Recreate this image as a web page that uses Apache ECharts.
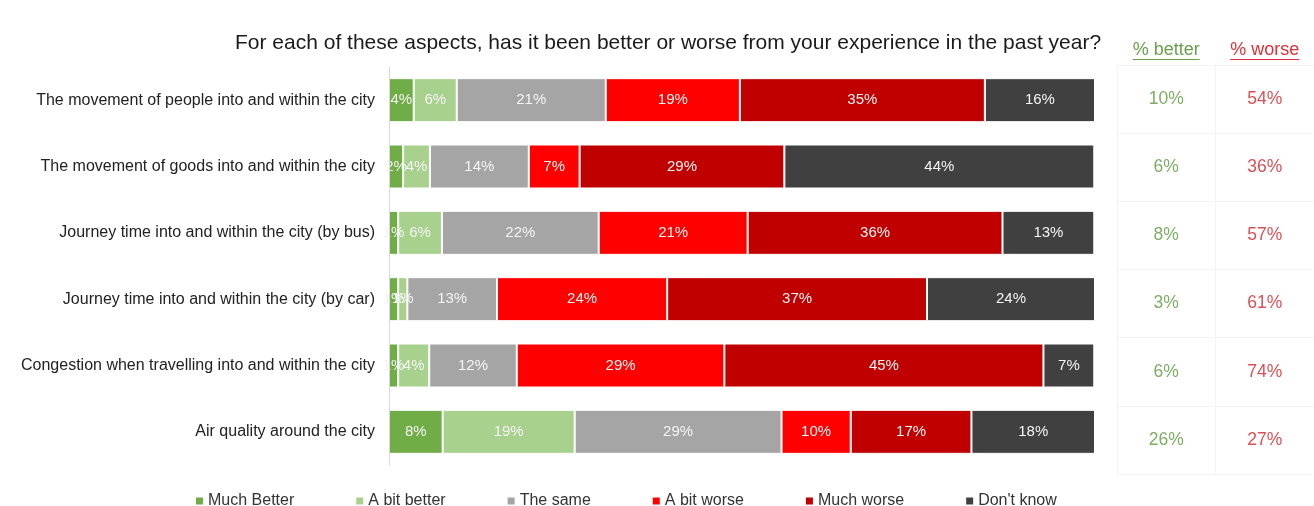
<!DOCTYPE html>
<html>
<head>
<meta charset="utf-8">
<script src="https://cdn.jsdelivr.net/npm/echarts@6/dist/echarts.min.js"></script>
<style>
  html, body { margin: 0; padding: 0; background: #fff; }
  #chart { width: 1314px; height: 506px; }
</style>
</head>
<body>
<div id="chart"></div>
<script>
// Survey aspects (top to bottom)
const categories = [
  'The movement of people into and within the city',
  'The movement of goods into and within the city',
  'Journey time into and within the city (by bus)',
  'Journey time into and within the city (by car)',
  'Congestion when travelling into and within the city',
  'Air quality around the city'
];

// Share of responses per answer, in percent
const seriesNames = ['Much Better', 'A bit better', 'The same', 'A bit worse', 'Much worse', "Don't know"];
const muchBetter = [3.5, 2.0, 1.3, 1.3, 1.3, 7.6];
const aBitBetter = [6.1, 3.8, 6.2, 1.3, 4.4, 18.7];
const theSame    = [21.1, 14.0, 22.2, 12.7, 12.4, 29.3];
const aBitWorse  = [19.0, 7.2, 21.1, 24.1, 29.4, 9.8];
const muchWorse  = [34.7, 29.0, 36.1, 36.8, 45.2, 17.1];
const dontKnow   = [15.6, 43.9, 13.0, 23.8, 7.2, 17.5];

// Summary table columns
const tableHeaders = ['% better', '% worse'];
const pctBetter = [10, 6, 8, 3, 6, 26];
const pctWorse  = [54, 36, 57, 61, 74, 27];

const colors = ['#70AD47', '#A9D18E', '#A5A5A5', '#FF0000', '#C00000', '#404040'];
const seriesData = [muchBetter, aBitBetter, theSame, aBitWorse, muchWorse, dontKnow];
const FONT = 'Liberation Sans, Arial, sans-serif';
const headerColors = ['#6A9F4B', '#DD3139'];
const valueColors = ['#5C973C', '#D0232B'];

const chart = echarts.init(document.getElementById('chart'), null, { renderer: 'canvas' });

const barSeries = seriesNames.map((name, i) => ({
  name,
  type: 'bar',
  stack: 'total',
  xAxisIndex: 0,
  yAxisIndex: 0,
  barWidth: 44,
  z: 2,
  data: seriesData[i],
  itemStyle: { color: colors[i], borderColor: '#ffffff', borderWidth: 1 },
  label: {
    show: true,
    position: 'inside',
    color: '#f4f4f4',
    fontFamily: FONT,
    fontSize: 15,
    formatter: p => Math.round(p.value) + '%'
  },
  emphasis: { disabled: true }
}));

const tableSeries = [pctBetter, pctWorse].map((vals, c) => ({
  name: tableHeaders[c],
  type: 'scatter',
  xAxisIndex: 1,
  yAxisIndex: 1,
  symbolSize: 0,
  data: vals.map((v, r) => [c, r, v]),
  encode: { x: 0, y: 1 },
  label: {
    show: true,
    position: 'inside',
    color: valueColors[c],
    fontFamily: FONT,
    fontSize: 17.5,
    formatter: p => p.value[2] + '%'
  },
  emphasis: { disabled: true },
  silent: true
}));

chart.setOption({
  animation: false,
  textStyle: { fontFamily: FONT },
  title: {
    text: 'For each of these aspects, has it been better or worse from your experience in the past year?',
    left: 230,
    top: 28,
    textStyle: { fontFamily: FONT, fontSize: 21, fontWeight: 'normal', color: '#1a1a1a' }
  },
  legend: {
    data: seriesNames,
    left: 194,
    top: 493,
    padding: 0,
    itemWidth: 9,
    itemHeight: 9,
    itemGap: 60,
    icon: 'rect',
    textStyle: { fontFamily: FONT, fontSize: 16, color: '#333333', padding: [0, 0, 0, -1] }
  },
  grid: [
    { left: 389, right: 219, top: 67, bottom: 41 },
    { left: 1117, right: 0, top: 65, bottom: 32 }
  ],
  xAxis: [
    {
      type: 'value', gridIndex: 0, min: 0, max: 100,
      show: false
    },
    {
      type: 'category', gridIndex: 1, position: 'top',
      data: tableHeaders,
      axisLine: { show: false },
      axisTick: { show: false },
      axisLabel: {
        margin: 6,
        fontSize: 18,
        fontFamily: FONT,
        color: (v, i) => headerColors[i]
      },
      splitLine: { show: true, lineStyle: { color: '#f4f4f4' } }
    }
  ],
  yAxis: [
    {
      type: 'category', gridIndex: 0, inverse: true,
      z: 5,
      data: categories,
      axisLine: { show: true, lineStyle: { color: '#d9d9d9', width: 1 } },
      axisTick: { show: false },
      axisLabel: { margin: 14, fontSize: 16, fontFamily: FONT, color: '#222222' }
    },
    {
      type: 'category', gridIndex: 1, inverse: true,
      data: categories,
      axisLine: { show: false },
      axisTick: { show: false },
      axisLabel: { show: false },
      splitLine: { show: true, lineStyle: { color: '#f4f4f4' } }
    }
  ],
  series: barSeries.concat(tableSeries)
});

// Underline the table headers
const ctx = document.createElement('canvas').getContext('2d');
ctx.font = '18px ' + FONT;
const underlines = tableHeaders.map((h, i) => {
  const cx = chart.convertToPixel({ xAxisIndex: 1 }, i);
  const w = ctx.measureText(h).width;
  return {
    type: 'line',
    silent: true,
    shape: { x1: cx - w / 2, y1: 59.5, x2: cx + w / 2, y2: 59.5 },
    style: { stroke: headerColors[i], lineWidth: 1 }
  };
});
chart.setOption({ graphic: underlines });
</script>
</body>
</html>
